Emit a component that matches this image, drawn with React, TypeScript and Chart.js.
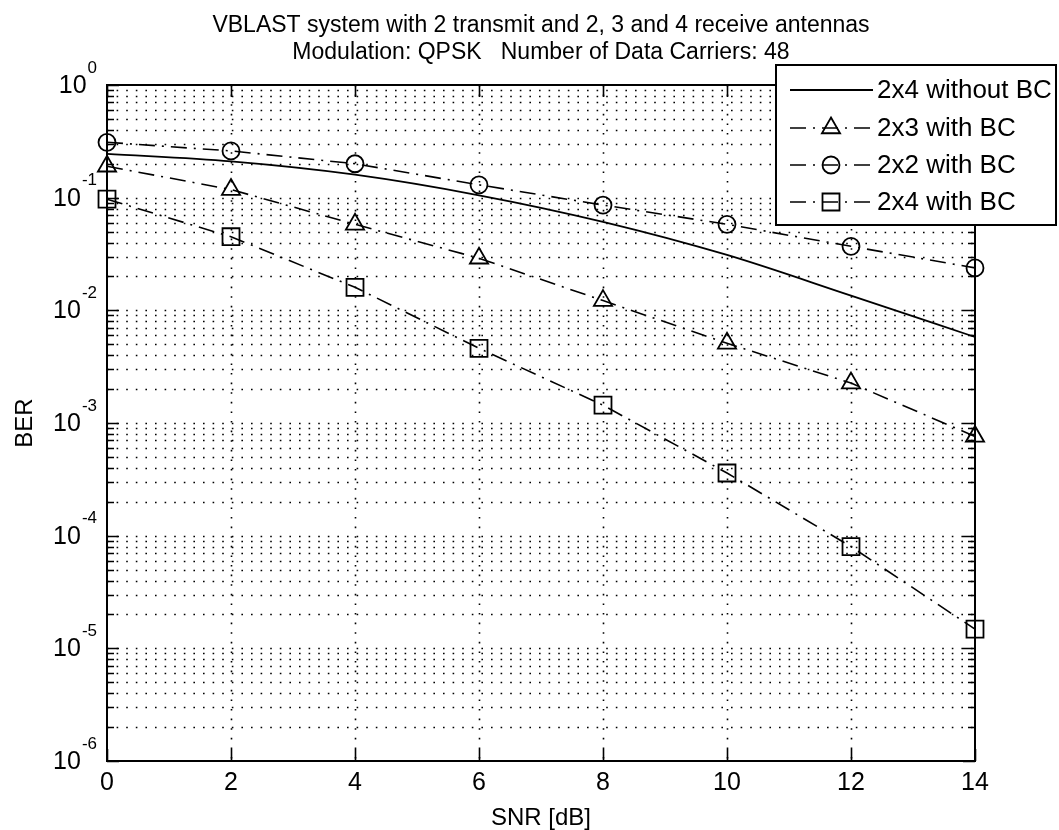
import React, { useEffect, useRef } from "react";
import { Chart, registerables } from "chart.js";

Chart.register(...registerables);

const snr = [0, 2, 4, 6, 8, 10, 12, 14];
const ber2x4NoBC = [0.245, 0.21, 0.16, 0.105, 0.061, 0.031, 0.0135, 0.0058];
const ber2x3BC = [0.19, 0.118, 0.058, 0.029, 0.0122, 0.0051, 0.00226, 0.00076];
const ber2x2BC = [0.31, 0.26, 0.2, 0.13, 0.086, 0.058, 0.037, 0.0238];
const ber2x4BC = [0.097, 0.045, 0.016, 0.0046, 0.00144, 0.00036, 0.00008, 0.0000148];

const seriesNames = ["2x4 without BC", "2x3 with BC", "2x2 with BC", "2x4 with BC"];
const xTicks = [0, 2, 4, 6, 8, 10, 12, 14];
const yExponents = [0, -1, -2, -3, -4, -5, -6];
const titleLines = [
  "VBLAST system with 2 transmit and 2, 3 and 4 receive antennas",
  "Modulation: QPSK   Number of Data Carriers: 48",
];
const xLabel = "SNR [dB]";
const yLabel = "BER";

const FONT = '"Liberation Sans", Arial, sans-serif';
const DASHDOT = [16, 7, 2, 7];

function drawMarker(ctx: CanvasRenderingContext2D, style: string, x: number, y: number) {
  ctx.save();
  ctx.setLineDash([]);
  ctx.lineWidth = 1.8;
  ctx.strokeStyle = "#000";
  ctx.beginPath();
  if (style === "circle") {
    ctx.arc(x, y, 8.5, 0, Math.PI * 2);
  } else if (style === "triangle") {
    const r = 10.5;
    ctx.moveTo(x, y - r);
    ctx.lineTo(x + r * Math.sin((2 * Math.PI) / 3), y - r * Math.cos((2 * Math.PI) / 3));
    ctx.lineTo(x + r * Math.sin((4 * Math.PI) / 3), y - r * Math.cos((4 * Math.PI) / 3));
    ctx.closePath();
  } else if (style === "rect") {
    const s = 8.5;
    ctx.rect(x - s, y - s, 2 * s, 2 * s);
  }
  ctx.stroke();
  ctx.restore();
}

const matlabPlugin = {
  id: "matlabStyle",
  beforeDraw(chart: any) {
    const ctx = chart.ctx;
    ctx.save();
    ctx.fillStyle = "#fff";
    ctx.fillRect(0, 0, chart.width, chart.height);
    ctx.restore();
  },
  beforeDatasetsDraw(chart: any) {
    const ctx: CanvasRenderingContext2D = chart.ctx;
    const { left, right, top, bottom } = chart.chartArea;
    const xs = chart.scales.x;
    const ys = chart.scales.y;
    ctx.save();
    ctx.strokeStyle = "#000";
    ctx.lineWidth = 1.6;
    ctx.setLineDash([1.6, 8]);
    for (const e of yExponents) {
      for (let m = 1; m <= 9; m++) {
        const v = m * Math.pow(10, e);
        if (v > 1 || v <= 1e-6) continue;
        const y = Math.round(ys.getPixelForValue(v)) + 0.5;
        if (y <= top + 1) continue;
        ctx.beginPath();
        ctx.moveTo(left, y);
        ctx.lineTo(right, y);
        ctx.stroke();
      }
    }
    for (const t of xTicks) {
      if (t === 0 || t === 14) continue;
      const x = Math.round(xs.getPixelForValue(t)) + 0.5;
      ctx.beginPath();
      ctx.moveTo(x, top);
      ctx.lineTo(x, bottom);
      ctx.stroke();
    }
    ctx.restore();
  },
  afterDatasetsDraw(chart: any) {
    const ctx: CanvasRenderingContext2D = chart.ctx;
    const { left, right, top, bottom } = chart.chartArea;
    const xs = chart.scales.x;
    const ys = chart.scales.y;
    ctx.save();
    ctx.setLineDash([]);
    ctx.strokeStyle = "#000";
    ctx.fillStyle = "#000";
    // ticks
    ctx.lineWidth = 1.6;
    for (const t of xTicks) {
      const x = Math.round(xs.getPixelForValue(t)) + 0.5;
      ctx.beginPath();
      ctx.moveTo(x, bottom);
      ctx.lineTo(x, bottom - 12);
      ctx.moveTo(x, top);
      ctx.lineTo(x, top + 12);
      ctx.stroke();
    }
    for (const e of yExponents) {
      for (let m = 1; m <= 9; m++) {
        const v = m * Math.pow(10, e);
        if (v > 1 || v < 1e-6) continue;
        const y = Math.round(ys.getPixelForValue(v)) + 0.5;
        const len = m === 1 ? 12 : 7;
        ctx.beginPath();
        ctx.moveTo(left, y);
        ctx.lineTo(left + len, y);
        ctx.moveTo(right, y);
        ctx.lineTo(right - len, y);
        ctx.stroke();
      }
    }
    // box
    ctx.lineWidth = 2;
    ctx.strokeRect(left, top, right - left, bottom - top);

    // x tick labels
    ctx.font = `25px ${FONT}`;
    ctx.textAlign = "center";
    ctx.textBaseline = "middle";
    for (const t of xTicks) {
      ctx.fillText(String(t), xs.getPixelForValue(t), bottom + 22);
    }
    // y tick labels with superscript
    for (const e of yExponents) {
      const y = ys.getPixelForValue(Math.pow(10, e));
      const sup = String(e);
      ctx.font = `17px ${FONT}`;
      const sw = ctx.measureText(sup).width;
      const supRight = left - 10;
      ctx.textAlign = "right";
      ctx.textBaseline = "middle";
      ctx.fillText(sup, supRight, y - 17);
      ctx.font = `25px ${FONT}`;
      ctx.fillText("10", supRight - sw - 1, y + 1);
    }
    // axis labels
    ctx.font = `24px ${FONT}`;
    ctx.textAlign = "center";
    ctx.textBaseline = "middle";
    ctx.fillText(xLabel, (left + right) / 2, bottom + 57);
    ctx.save();
    ctx.translate(25, (top + bottom) / 2);
    ctx.rotate(-Math.PI / 2);
    ctx.fillText(yLabel, 0, 0);
    ctx.restore();
    // title
    ctx.font = `23px ${FONT}`;
    ctx.fillText(titleLines[0], (left + right) / 2, 26);
    ctx.fillText(titleLines[1], (left + right) / 2, 53);

    // legend
    const lx = 776, ly = 65, lw = 280, lh = 160;
    ctx.fillStyle = "#fff";
    ctx.fillRect(lx, ly, lw, lh);
    ctx.lineWidth = 2;
    ctx.strokeStyle = "#000";
    ctx.strokeRect(lx, ly, lw, lh);
    const rows = [90, 128, 165, 202];
    chart.data.datasets.forEach((ds: any, i: number) => {
      const yy = rows[i];
      ctx.save();
      ctx.strokeStyle = "#000";
      ctx.lineWidth = ds.borderWidth;
      ctx.setLineDash(ds.borderDash || []);
      ctx.beginPath();
      ctx.moveTo(790, yy);
      ctx.lineTo(873, yy);
      ctx.stroke();
      ctx.restore();
      if (ds.pointRadius > 0) drawMarker(ctx, ds.pointStyle, 831, yy);
      ctx.fillStyle = "#000";
      ctx.font = `26px ${FONT}`;
      ctx.textAlign = "left";
      ctx.textBaseline = "middle";
      ctx.fillText(seriesNames[i], 877, yy + 1);
    });
    ctx.restore();
  },
};

export default function App() {
  const ref = useRef<HTMLCanvasElement>(null);
  useEffect(() => {
    if (!ref.current) return;
    const mk = (vals: number[]) => snr.map((x, i) => ({ x, y: vals[i] }));
    const chart = new Chart(ref.current, {
      type: "line",
      data: {
        datasets: [
          {
            label: seriesNames[0],
            data: mk(ber2x4NoBC),
            borderColor: "#000",
            borderWidth: 1.8,
            pointRadius: 0,
            cubicInterpolationMode: "monotone",
            clip: false,
          } as any,
          {
            label: seriesNames[1],
            data: mk(ber2x3BC),
            borderColor: "#000",
            borderWidth: 1.6,
            borderDash: DASHDOT,
            pointStyle: "triangle",
            pointRadius: 10.5,
            pointBorderWidth: 1.8,
            pointBackgroundColor: "rgba(0,0,0,0)",
            pointBorderColor: "#000",
            clip: false,
          },
          {
            label: seriesNames[2],
            data: mk(ber2x2BC),
            borderColor: "#000",
            borderWidth: 1.6,
            borderDash: DASHDOT,
            pointStyle: "circle",
            pointRadius: 8.5,
            pointBorderWidth: 1.8,
            pointBackgroundColor: "rgba(0,0,0,0)",
            pointBorderColor: "#000",
            clip: false,
          },
          {
            label: seriesNames[3],
            data: mk(ber2x4BC),
            borderColor: "#000",
            borderWidth: 1.6,
            borderDash: DASHDOT,
            pointStyle: "rect",
            pointRadius: 12,
            pointBorderWidth: 1.8,
            pointBackgroundColor: "rgba(0,0,0,0)",
            pointBorderColor: "#000",
            clip: false,
          },
        ],
      },
      options: {
        animation: false,
        responsive: false,
        maintainAspectRatio: false,
        layout: { padding: { left: 107, right: 84, top: 85, bottom: 69 } },
        plugins: { legend: { display: false }, title: { display: false }, tooltip: { enabled: false } },
        elements: { line: { borderCapStyle: "butt" } },
        scales: {
          x: {
            type: "linear",
            min: 0,
            max: 14,
            ticks: { display: false },
            grid: { display: false, drawTicks: false },
            border: { display: false },
          },
          y: {
            type: "logarithmic",
            min: 1e-6,
            max: 1,
            ticks: { display: false },
            grid: { display: false, drawTicks: false },
            border: { display: false },
          },
        },
      },
      plugins: [matlabPlugin],
    });
    return () => chart.destroy();
  }, []);
  return (
    <div style={{ position: "fixed", left: 0, top: 0, width: 1059, height: 830, background: "#fff" }}>
      <canvas ref={ref} width={1059} height={830} style={{ width: 1059, height: 830, display: "block" }} />
    </div>
  );
}
